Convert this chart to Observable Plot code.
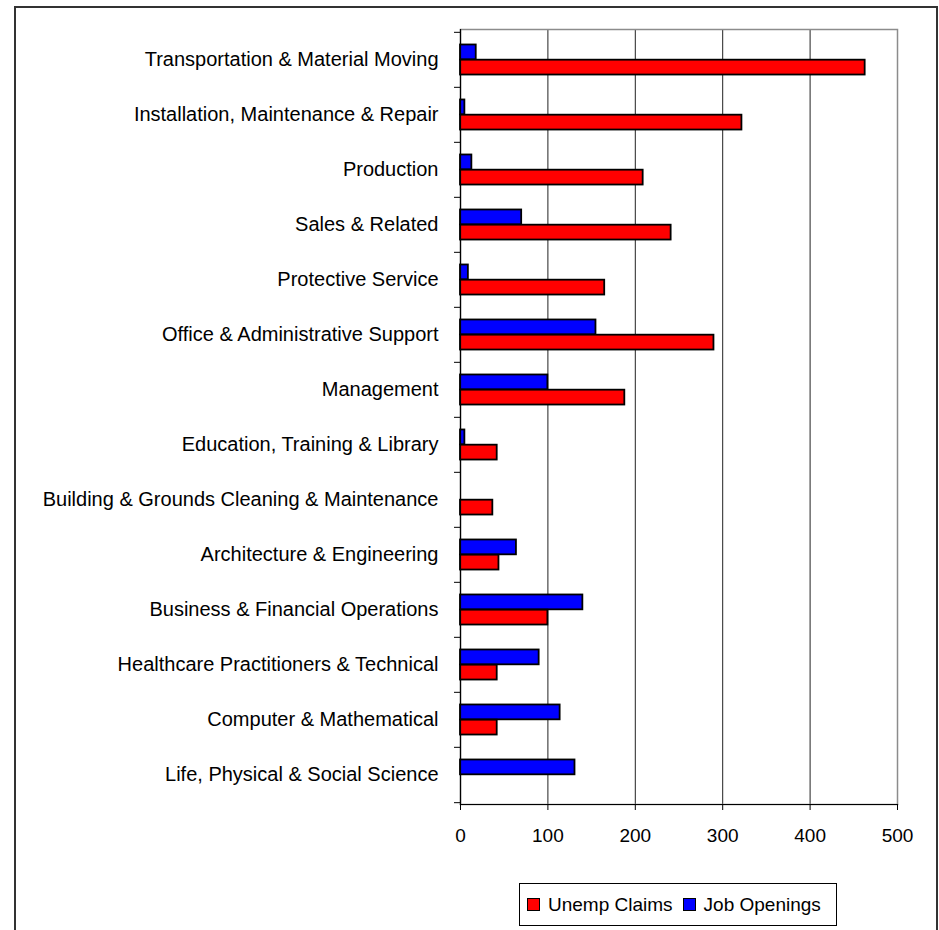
<!DOCTYPE html>
<html>
<head>
<meta charset="utf-8">
<script src="https://cdn.jsdelivr.net/npm/d3@7"></script>
<script src="https://cdn.jsdelivr.net/npm/@observablehq/plot@0.6"></script>
<style>
  body { margin: 0; background: #fff; font-family: "Liberation Sans", Arial, sans-serif; }
  #wrap { position: relative; width: 939px; height: 930px; overflow: hidden; background: #fff; }
  #chart { position: absolute; left: 0; top: 0; }
  #frame { position: absolute; left: 14px; top: 6px; width: 924px; height: 980px; border: 2px solid #333; box-sizing: border-box; pointer-events: none; }
  #legend { position: absolute; left: 519px; top: 883px; width: 318px; height: 43px; border: 1px solid #000; box-sizing: border-box; background: #fff; display: flex; align-items: center; padding-left: 7px; font-size: 19px; color: #000; white-space: nowrap; }
  .sw { display: inline-block; width: 11px; height: 11px; border: 1px solid #000; margin-right: 8px; }
  .item { display: inline-flex; align-items: center; margin-right: 10px; }
</style>
</head>
<body>
<div id="wrap">
  <div id="chart"></div>
  <div id="frame"></div>
  <div id="legend"></div>
</div>
<script>
const categories = [
  "Transportation & Material Moving",
  "Installation, Maintenance & Repair",
  "Production",
  "Sales & Related",
  "Protective Service",
  "Office & Administrative Support",
  "Management",
  "Education, Training & Library",
  "Building & Grounds Cleaning & Maintenance",
  "Architecture & Engineering",
  "Business & Financial Operations",
  "Healthcare Practitioners & Technical",
  "Computer & Mathematical",
  "Life, Physical & Social Science"
];
const unempClaims = [463, 322, 209, 241, 165, 290, 188, 42, 37, 44, 100, 42, 42, 0];
const jobOpenings = [18, 5, 13, 70, 9, 155, 100, 5, 0, 64, 140, 90, 114, 131];
const seriesNames = ["Unemp Claims", "Job Openings"];
const seriesColors = ["#ff0000", "#0000ff"];
const xTicks = [0, 100, 200, 300, 400, 500];

const W = 939, H = 860, mT = 29, mB = 56, mL = 460, mR = 42;
const step = (H - mT - mB) / categories.length;
const barH = 15.2;
const gapTop = (step - 2 * barH) / 2;

const rows = categories.flatMap((c, i) => [
  {category: c, series: "Job Openings", value: jobOpenings[i]},
  {category: c, series: "Unemp Claims", value: unempClaims[i]}
]);

const font = '"Liberation Sans", Arial, sans-serif';

const plot = Plot.plot({
  width: W, height: H,
  marginTop: mT, marginBottom: mB, marginLeft: mL, marginRight: mR,
  style: {fontFamily: font, fontSize: "20px", color: "#000", background: "transparent", overflow: "visible"},
  x: {domain: [0, 500], ticks: xTicks},
  y: {domain: categories, padding: 0},
  color: {domain: seriesNames, range: seriesColors},
  marks: [
    Plot.gridX(xTicks.slice(1, -1), {stroke: "#222", strokeOpacity: 1, strokeWidth: 1}),
    Plot.frame({stroke: "#8c8c8c", strokeWidth: 1.5}),
    Plot.barX(rows.filter(d => d.series === "Job Openings" && d.value > 0), {
      x: "value", y: "category", fill: "series", stroke: "#000", strokeWidth: 1.8,
      insetTop: gapTop, insetBottom: step - gapTop - barH
    }),
    Plot.barX(rows.filter(d => d.series === "Unemp Claims" && d.value > 0), {
      x: "value", y: "category", fill: "series", stroke: "#000", strokeWidth: 1.8,
      insetTop: gapTop + barH, insetBottom: gapTop
    }),
    Plot.frame({anchor: "left", stroke: "#000", strokeWidth: 1.2}),
    Plot.frame({anchor: "bottom", stroke: "#000", strokeWidth: 1.2}),
    Plot.axisX({ticks: xTicks, tickSize: 6, tickPadding: 18, fontSize: 19, label: null, stroke: "#000"}),
    Plot.axisY({tickSize: 0, tickPadding: 22, fontSize: 20, label: null}),
    Plot.axisY({tickSize: 6, fill: "none", label: null, dy: -step / 2, stroke: "#000"}),
    Plot.axisY({ticks: categories.slice(-1), tickSize: 6, fill: "none", label: null, dy: step / 2, stroke: "#000"})
  ]
});
document.getElementById("chart").appendChild(plot);

const legend = d3.select("#legend");
seriesNames.forEach((s, i) => {
  const it = legend.append("span").attr("class", "item");
  it.append("span").attr("class", "sw").style("background", seriesColors[i]);
  it.append("span").text(s);
});
</script>
</body>
</html>
